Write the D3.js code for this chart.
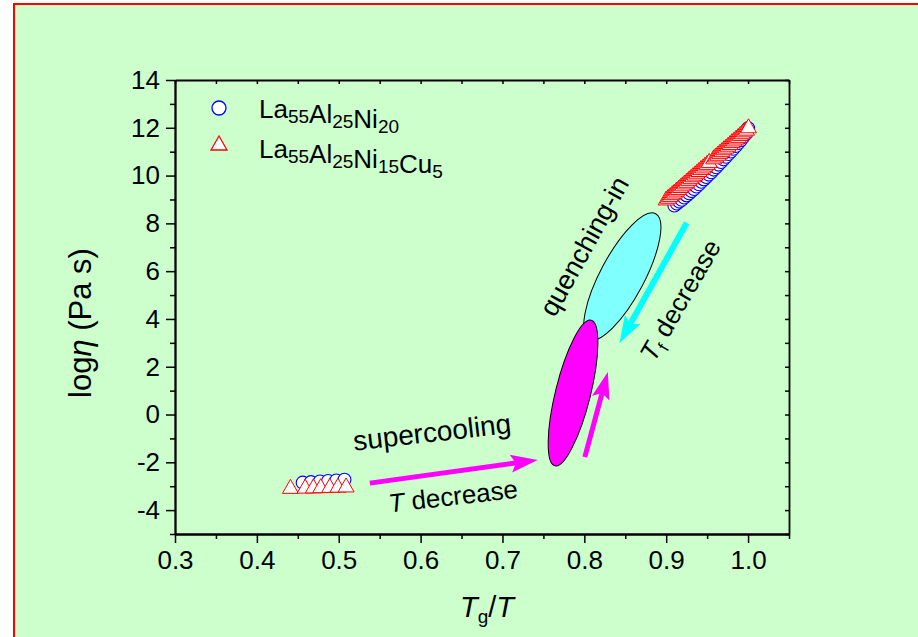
<!DOCTYPE html>
<html>
<head>
<meta charset="utf-8">
<script src="https://cdn.jsdelivr.net/npm/d3@7"></script>
<style>
	body { margin: 0; background: #fff; }
	svg { display: block; font-family: Arial, "Liberation Sans", sans-serif; }
</style>
</head>
<body>
<svg class="chart" width="918" height="637"></svg>
<script>
////////////////////////////////////////////////////////////
//// Data //////////////////////////////////////////////////
////////////////////////////////////////////////////////////
const xTicks = [0.3, 0.4, 0.5, 0.6, 0.7, 0.8, 0.9, 1.0];
const yTicks = [-4, -2, 0, 2, 4, 6, 8, 10, 12, 14];

// La55Al25Ni20 (circles): liquid and glass regions
const ni20Liquid = [
	[0.456, -2.85], [0.466, -2.83], [0.477, -2.80], [0.487, -2.78], [0.497, -2.76], [0.507, -2.73]
];
const ni20Glass = [
	[0.910, 8.75], [0.913, 8.83], [0.916, 8.91], [0.919, 8.99], [0.922, 9.08], [0.925, 9.17],
	[0.928, 9.26], [0.931, 9.35], [0.934, 9.44], [0.937, 9.54], [0.940, 9.64], [0.943, 9.74],
	[0.946, 9.84], [0.949, 9.94], [0.952, 10.04], [0.955, 10.14], [0.958, 10.25], [0.961, 10.35],
	[0.964, 10.46], [0.967, 10.57], [0.970, 10.68], [0.973, 10.79], [0.976, 10.90], [0.979, 11.01],
	[0.982, 11.12], [0.985, 11.24], [0.988, 11.36], [0.991, 11.48], [0.994, 11.61], [0.997, 11.74],
	[1.000, 11.98]
];

// La55Al25Ni15Cu5 (triangles)
const cu5Liquid = [
	[0.441, -3.09], [0.459, -3.08], [0.469, -3.07], [0.478, -3.06], [0.489, -3.05], [0.499, -3.04], [0.509, -3.03]
];
const cu5Glass = [
	[0.900, 8.98], [0.9025, 9.05], [0.905, 9.12], [0.9075, 9.20], [0.910, 9.27], [0.9125, 9.35],
	[0.915, 9.42], [0.9175, 9.50], [0.920, 9.57], [0.9225, 9.65], [0.925, 9.72], [0.9275, 9.80],
	[0.930, 9.87], [0.9325, 9.95], [0.935, 10.02], [0.9375, 10.10], [0.940, 10.17], [0.9425, 10.25],
	[0.945, 10.32], [0.9475, 10.40], [0.950, 10.47], [0.9525, 10.55], [0.958, 10.70], [0.9605, 10.78],
	[0.963, 10.85], [0.9655, 10.93], [0.968, 11.00], [0.9705, 11.08], [0.973, 11.15], [0.9755, 11.23],
	[0.978, 11.30], [0.9805, 11.38], [0.983, 11.45], [0.9855, 11.53], [0.988, 11.60], [0.9905, 11.68],
	[0.993, 11.75], [0.9955, 11.83], [0.998, 11.90], [1.0005, 12.00]
];

////////////////////////////////////////////////////////////
//// Setup /////////////////////////////////////////////////
////////////////////////////////////////////////////////////
const svg = d3.select(".chart");
const plot = { left: 175, right: 789, top: 80, bottom: 534 };

const x = d3.scaleLinear().domain([0.3, 1.05]).range([plot.left, plot.right]);
const y = d3.scaleLinear().domain([-5, 14]).range([plot.bottom, plot.top]);

// page background with the red frame on top / left
svg.append("rect").attr("width", 918).attr("height", 637).attr("fill", "#fff");
svg.append("rect").attr("x", 13).attr("y", 3).attr("width", 905).attr("height", 634).attr("fill", "#ff0000");
svg.append("rect").attr("x", 15).attr("y", 5).attr("width", 903).attr("height", 632).attr("fill", "#ccffcc");

////////////////////////////////////////////////////////////
//// Axes //////////////////////////////////////////////////
////////////////////////////////////////////////////////////
const xMinor = d3.range(0.35, 1.06, 0.1).map(v => +v.toFixed(2));
const yMinor = d3.range(-5, 14, 2);

function styleAxis(g) {
	g.selectAll(".domain").attr("stroke", "#000").attr("stroke-width", 1.8);
	g.selectAll(".tick line").attr("stroke", "#000").attr("stroke-width", 1.5);
	g.selectAll(".tick text").attr("fill", "#000").attr("font-size", 26);
}

svg.append("g").attr("transform", `translate(0,${plot.bottom})`)
	.call(d3.axisBottom(x).tickValues(xTicks).tickFormat(d3.format(".1f")).tickSize(9).tickPadding(8).tickSizeOuter(0))
	.call(styleAxis);
svg.append("g").attr("transform", `translate(0,${plot.bottom})`)
	.call(d3.axisBottom(x).tickValues(xMinor).tickFormat("").tickSize(5).tickSizeOuter(0))
	.call(styleAxis);

svg.append("g").attr("transform", `translate(${plot.left},0)`)
	.call(d3.axisLeft(y).tickValues(yTicks).tickFormat(d => String(d)).tickSize(9).tickPadding(6).tickSizeOuter(0))
	.call(styleAxis);
svg.append("g").attr("transform", `translate(${plot.left},0)`)
	.call(d3.axisLeft(y).tickValues(yMinor).tickFormat("").tickSize(5).tickSizeOuter(0))
	.call(styleAxis);

// top and right frame with small inward ticks
svg.append("g").attr("transform", `translate(0,${plot.top})`)
	.call(d3.axisTop(x).tickValues(xTicks.concat(xMinor)).tickFormat("").tickSize(-4).tickSizeOuter(0))
	.call(styleAxis);
svg.append("g").attr("transform", `translate(${plot.right},0)`)
	.call(d3.axisRight(y).tickValues(yTicks.concat(yMinor)).tickFormat("").tickSize(-4).tickSizeOuter(0))
	.call(styleAxis);

// axis titles
const yTitle = svg.append("text")
	.attr("transform", `translate(91,${(plot.top + plot.bottom) / 2 + 16}) rotate(-90)`)
	.attr("text-anchor", "middle")
	.attr("font-size", 31);
yTitle.append("tspan").text("log");
yTitle.append("tspan").attr("font-style", "italic").text("η");
yTitle.append("tspan").text(" (Pa s)");

const xTitle = svg.append("text")
	.attr("x", (plot.left + plot.right) / 2 + 5)
	.attr("y", 617)
	.attr("text-anchor", "middle")
	.attr("font-size", 29);
xTitle.append("tspan").attr("font-style", "italic").text("T");
xTitle.append("tspan").attr("font-size", 19).attr("dy", 6).text("g");
xTitle.append("tspan").attr("dy", -6).text("/");
xTitle.append("tspan").attr("font-style", "italic").text("T");

////////////////////////////////////////////////////////////
//// Annotations ///////////////////////////////////////////
////////////////////////////////////////////////////////////
const gAnno = svg.append("g");

gAnno.append("ellipse")
	.attr("cx", x(0.8464)).attr("cy", y(5.78))
	.attr("rx", 71).attr("ry", 22)
	.attr("transform", `rotate(-62,${x(0.8464)},${y(5.78)})`)
	.attr("fill", "#80ffff").attr("stroke", "#000").attr("stroke-width", 1);

gAnno.append("ellipse")
	.attr("cx", x(0.7862)).attr("cy", y(0.9))
	.attr("rx", 75).attr("ry", 17.5)
	.attr("transform", `rotate(-76,${x(0.7862)},${y(0.9)})`)
	.attr("fill", "#ff00ff").attr("stroke", "#000").attr("stroke-width", 1);

function arrow(from, to, color, width) {
	const x0 = x(from[0]), y0 = y(from[1]);
	const x1 = x(to[0]), y1 = y(to[1]);
	const len = Math.hypot(x1 - x0, y1 - y0);
	const ux = (x1 - x0) / len, uy = (y1 - y0) / len;
	const hl = 27, hw = 9;
	const bx = x1 - ux * hl, by = y1 - uy * hl;
	gAnno.append("line")
		.attr("x1", x0).attr("y1", y0)
		.attr("x2", bx + ux * 6).attr("y2", by + uy * 6)
		.attr("stroke", color).attr("stroke-width", width);
	gAnno.append("path")
		.attr("d", `M${x1},${y1}L${bx - uy * hw},${by + ux * hw}L${bx + ux * 5},${by + uy * 5}L${bx + uy * hw},${by - ux * hw}Z`)
		.attr("fill", color);
}

arrow([0.538, -2.87], [0.743, -1.90], "#ff00ff", 5);
arrow([0.8006, -1.78], [0.8287, 1.78], "#ff00ff", 5);
arrow([0.925, 8.02], [0.843, 2.99], "#00ffff", 6);

function rotatedText(pos, angle, size) {
	return gAnno.append("text")
		.attr("transform", `translate(${x(pos[0])},${y(pos[1])}) rotate(${angle})`)
		.attr("text-anchor", "middle")
		.attr("dy", "0.35em")
		.attr("font-size", size);
}

rotatedText([0.614, -0.73], -6.5, 28).text("supercooling");

const tDec = rotatedText([0.6396, -3.41], -6.5, 26);
tDec.append("tspan").attr("font-style", "italic").text("T");
tDec.append("tspan").text(" decrease");

rotatedText([0.7996, 7.05], -61, 27).text("quenching-in");

const tfDec = rotatedText([0.9169, 4.79], -60, 26);
tfDec.append("tspan").attr("font-style", "italic").text("T");
tfDec.append("tspan").attr("font-size", 17).attr("dy", 6).text("f");
tfDec.append("tspan").attr("dy", -6).text(" decrease");

////////////////////////////////////////////////////////////
//// Marks /////////////////////////////////////////////////
////////////////////////////////////////////////////////////
const triPath = "M0,-9L8,5L-8,5Z";

const gMarks = svg.append("g");

gMarks.selectAll("circle.ni20")
	.data(ni20Liquid.concat(ni20Glass))
	.join("circle")
	.attr("class", "ni20")
	.attr("cx", d => x(d[0])).attr("cy", d => y(d[1]))
	.attr("r", 6.5)
	.attr("fill", "#fff").attr("stroke", "#0000ff").attr("stroke-width", 1.1);

gMarks.selectAll("path.cu5")
	.data(cu5Liquid.concat(cu5Glass))
	.join("path")
	.attr("class", "cu5")
	.attr("d", triPath)
	.attr("transform", d => `translate(${x(d[0])},${y(d[1])})`)
	.attr("fill", "#fff").attr("stroke", "#ff0000").attr("stroke-width", 1);

////////////////////////////////////////////////////////////
//// Legend ////////////////////////////////////////////////
////////////////////////////////////////////////////////////
const legend = svg.append("g");

legend.append("circle")
	.attr("cx", 219).attr("cy", 108).attr("r", 7)
	.attr("fill", "#fff").attr("stroke", "#0000ff").attr("stroke-width", 1.3);
legend.append("path")
	.attr("d", triPath)
	.attr("transform", "translate(219,145)")
	.attr("fill", "#fff").attr("stroke", "#ff0000").attr("stroke-width", 1.3);

function formula(yPos, parts) {
	const t = legend.append("text").attr("x", 259).attr("y", yPos).attr("font-size", 26);
	parts.forEach(([main, sub]) => {
		t.append("tspan").text(main);
		t.append("tspan").attr("font-size", 19).attr("dy", 5).text(sub);
		t.append("tspan").attr("dy", -5).text("");
	});
}

formula(118, [["La", "55"], ["Al", "25"], ["Ni", "20"]]);
formula(158, [["La", "55"], ["Al", "25"], ["Ni", "15"], ["Cu", "5"]]);
</script>
</body>
</html>
